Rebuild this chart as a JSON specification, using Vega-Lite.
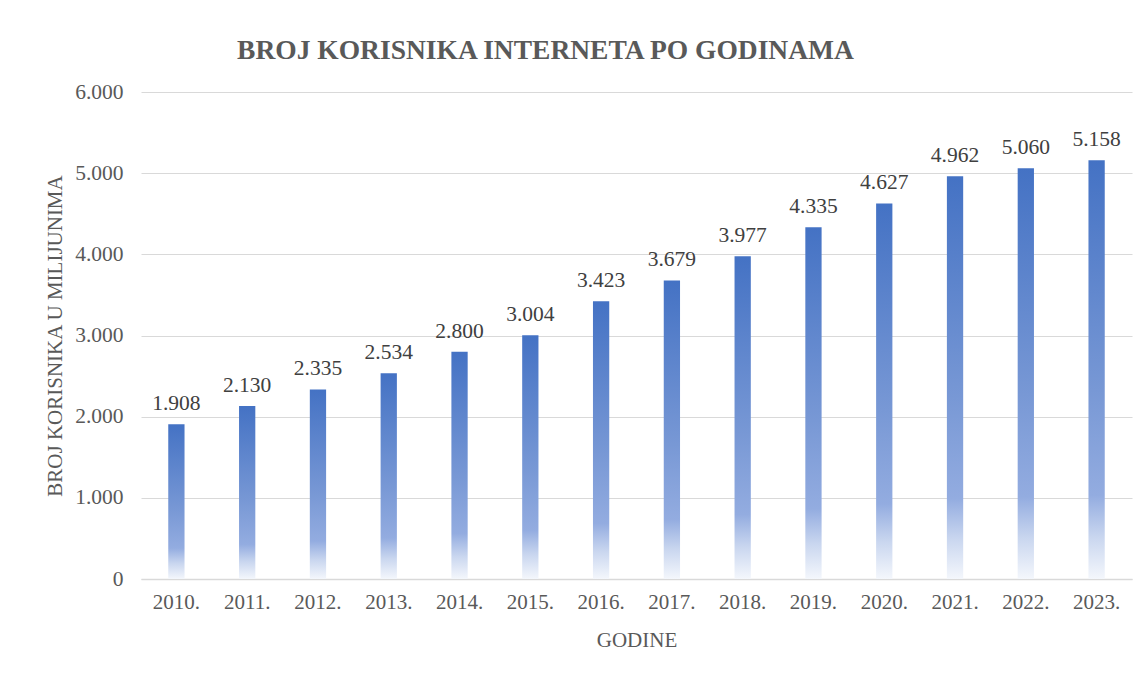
{
  "$schema": "https://vega.github.io/schema/vega-lite/v6.json",
  "width": 991,
  "height": 487,
  "autosize": {"type": "none"},
  "padding": {"left": 141, "top": 92, "right": 15, "bottom": 98},
  "background": "white",
  "config": {
    "locale": {"number": {"decimal": ",", "thousands": ".", "grouping": [3], "currency": ["", ""]}},
    "view": {"stroke": null},
    "font": "Liberation Serif"
  },
  "title": {
    "text": "BROJ KORISNIKA INTERNETA PO GODINAMA",
    "font": "Liberation Serif",
    "fontSize": 27.5,
    "fontWeight": "bold",
    "color": "#595959",
    "anchor": "middle",
    "frame": "group",
    "dx": -91,
    "dy": 11,
    "offset": 28
  },
  "data": {
    "values": [
      {"godina": "2010.", "korisnici": 1908},
      {"godina": "2011.", "korisnici": 2130},
      {"godina": "2012.", "korisnici": 2335},
      {"godina": "2013.", "korisnici": 2534},
      {"godina": "2014.", "korisnici": 2800},
      {"godina": "2015.", "korisnici": 3004},
      {"godina": "2016.", "korisnici": 3423},
      {"godina": "2017.", "korisnici": 3679},
      {"godina": "2018.", "korisnici": 3977},
      {"godina": "2019.", "korisnici": 4335},
      {"godina": "2020.", "korisnici": 4627},
      {"godina": "2021.", "korisnici": 4962},
      {"godina": "2022.", "korisnici": 5060},
      {"godina": "2023.", "korisnici": 5158}
    ]
  },
  "encoding": {
    "x": {
      "field": "godina",
      "type": "ordinal",
      "sort": null,
      "scale": {"paddingInner": 0.77, "paddingOuter": 0.385},
      "axis": {
        "title": "GODINE",
        "titleFont": "Liberation Serif",
        "titleFontSize": 21,
        "titleFontWeight": "normal",
        "titleColor": "#595959",
        "titlePadding": 17,
        "labelFont": "Liberation Serif",
        "labelFontSize": 21,
        "labelColor": "#595959",
        "labelAngle": 0,
        "labelPadding": 12,
        "ticks": false,
        "domainColor": "#d9d9d9",
        "domainWidth": 1.5
      }
    },
    "y": {
      "field": "korisnici",
      "type": "quantitative",
      "scale": {"domain": [0, 6000]},
      "axis": {
        "title": "BROJ KORISNIKA U MILIJUNIMA",
        "titleFont": "Liberation Serif",
        "titleFontSize": 21,
        "titleFontWeight": "normal",
        "titleColor": "#595959",
        "titlePadding": 9,
        "labelFont": "Liberation Serif",
        "labelFontSize": 21.5,
        "labelColor": "#595959",
        "labelPadding": 18,
        "values": [0, 1000, 2000, 3000, 4000, 5000, 6000],
        "format": ",d",
        "ticks": false,
        "domain": false,
        "grid": true,
        "gridColor": "#d9d9d9",
        "gridWidth": 1
      }
    }
  },
  "layer": [
    {
      "mark": {
        "type": "bar",
        "color": {
          "gradient": "linear",
          "x1": 0, "y1": 1, "x2": 0, "y2": 0,
          "stops": [
            {"offset": 0, "color": "#f4f7fc"},
            {"offset": 0.1, "color": "#c9d6ef"},
            {"offset": 0.2, "color": "#93ace0"},
            {"offset": 0.45, "color": "#7898d5"},
            {"offset": 1, "color": "#4472c4"}
          ]
        }
      }
    },
    {
      "mark": {
        "type": "text",
        "font": "Liberation Serif",
        "fontSize": 21.5,
        "color": "#404040",
        "baseline": "alphabetic",
        "align": "center",
        "dy": -14
      },
      "encoding": {
        "text": {"field": "korisnici", "type": "quantitative", "format": ",d"}
      }
    }
  ]
}
